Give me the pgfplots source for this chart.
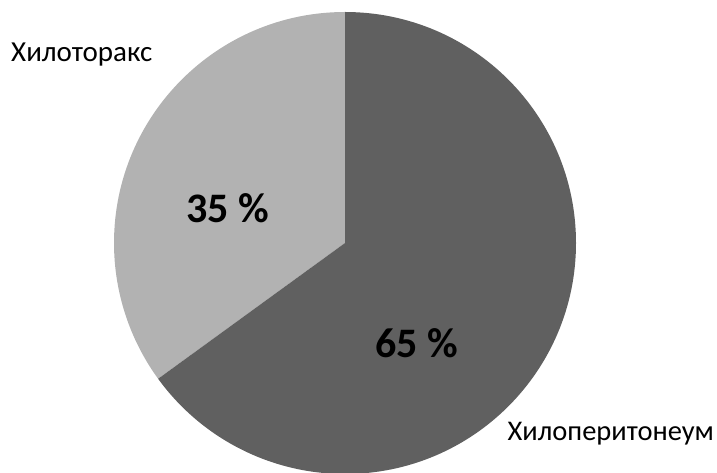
\documentclass[border=0pt]{standalone}
\usepackage{pgfplots}
\usepackage{pgfplotstable}
\pgfplotsset{compat=1.18}
\usepackage{fontspec}
\setmainfont{Carlito}
\definecolor{lightslice}{HTML}{B2B2B2}
\definecolor{darkslice}{HTML}{606060}
\pgfplotstableread{
share
35
65
}\piedata
\begin{document}
\begin{tikzpicture}
\pgfplotstablegetelem{0}{share}\of\piedata
\pgfmathsetmacro{\aA}{\pgfplotsretval}
\pgfmathsetmacro{\angA}{90+3.6*\aA}
\begin{axis}[
  hide axis,
  scale only axis,
  width=717bp, height=473bp,
  xmin=0, xmax=717, ymin=0, ymax=473,
  clip=true,
]
\path (axis cs:0,0) rectangle (axis cs:717,473);
% Хилоторакс slice (35 %)
\fill[lightslice] (axis cs:345,230) -- ++(90:231bp) arc[start angle=90, end angle=\angA, radius=231bp] -- cycle;
% Хилоперитонеум slice (65 %)
\fill[darkslice] (axis cs:345,230) -- ++(90:231bp) arc[start angle=90, end angle=\angA-360, radius=231bp] -- cycle;
\node[anchor=base west, inner sep=0pt, font=\fontsize{29bp}{33bp}\selectfont] at (axis cs:11,411) {Хилоторакс};
\node[anchor=base east, inner sep=0pt, font=\fontsize{28.5bp}{33bp}\selectfont] at (axis cs:714,32) {Хилоперитонеум};
\node[anchor=base west, inner sep=0pt, font=\fontsize{42bp}{47bp}\selectfont\bfseries] at (axis cs:186,250) {35 \%};
\node[anchor=base west, inner sep=0pt, font=\fontsize{42bp}{47bp}\selectfont\bfseries] at (axis cs:375,115) {65 \%};
\end{axis}
\end{tikzpicture}
\end{document}
